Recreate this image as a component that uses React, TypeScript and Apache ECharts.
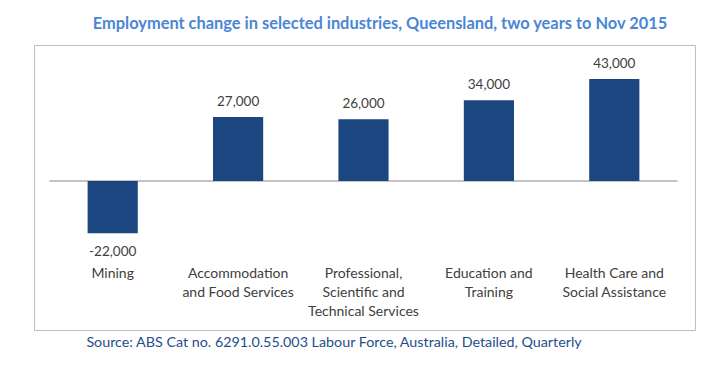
import React, { useEffect, useRef } from "react";
import * as echarts from "echarts";

const categories = [
  "Mining",
  "Accommodation\nand Food Services",
  "Professional,\nScientific and\nTechnical Services",
  "Education and\nTraining",
  "Health Care and\nSocial Assistance",
];
const values = [-22000, 27000, 26000, 34000, 43000];
const titleText = "Employment change in selected industries, Queensland, two years to Nov 2015";
const sourceText = "Source: ABS Cat no. 6291.0.55.003 Labour Force, Australia, Detailed, Quarterly";

const FONT = "Lato, 'Noto Sans', sans-serif";

export default function App() {
  const ref = useRef<HTMLDivElement>(null);
  useEffect(() => {
    if (!ref.current) return;
    const chart = echarts.init(ref.current, null, { renderer: "svg" });
    chart.setOption({
      animation: false,
      backgroundColor: "#ffffff",
      graphic: [
        {
          type: "rect",
          shape: { x: 34.5, y: 45.5, width: 661, height: 285 },
          style: { fill: "none", stroke: "#bfbfbf", lineWidth: 1 },
          silent: true,
          z: -1,
        },
        {
          type: "text",
          x: 380,
          y: 22,
          style: {
            text: titleText,
            fill: "#4a86d6",
            fontSize: 16.4,
            fontWeight: "bold",
            fontFamily: FONT,
            textAlign: "center",
            textVerticalAlign: "middle",
          },
        },
        {
          type: "text",
          x: 334,
          y: 341,
          style: {
            text: sourceText,
            fill: "#1f4e8c",
            fontSize: 14.3,
            fontFamily: FONT,
            textAlign: "center",
            textVerticalAlign: "middle",
          },
        },
      ],
      grid: { left: 50, right: 47, top: 62.4, height: 189.8, containLabel: false },
      xAxis: [
        {
          type: "category",
          data: categories,
          position: "bottom",
          axisLine: { show: false, onZero: false },
          axisTick: { show: false },
          axisLabel: {
            color: "#404040",
            fontSize: 14,
            fontFamily: FONT,
            lineHeight: 19,
            margin: 11,
            interval: 0,
          },
        },
        {
          type: "category",
          data: categories,
          position: "bottom",
          axisLine: { show: true, onZero: true, lineStyle: { color: "#b0b0b0", width: 1.5 } },
          axisTick: { show: false },
          axisLabel: { show: false },
        },
      ],
      yAxis: {
        type: "value",
        min: -30000,
        max: 50000,
        show: false,
        splitLine: { show: false },
      },
      series: [
        {
          type: "bar",
          data: values.map((v) =>
            v < 0 ? { value: v, label: { position: "bottom", distance: 11 } } : v
          ),
          barWidth: "40%",
          itemStyle: { color: "#1b4680" },
          label: {
            show: true,
            position: "top",
            distance: 9,
            color: "#404040",
            fontSize: 13.5,
            fontFamily: FONT,
            formatter: (p: any) => Number(p.value).toLocaleString("en-US"),
          },
        },
      ],
    });
    return () => chart.dispose();
  }, []);
  return <div ref={ref} style={{ width: 724, height: 371, margin: -8 }} />;
}
